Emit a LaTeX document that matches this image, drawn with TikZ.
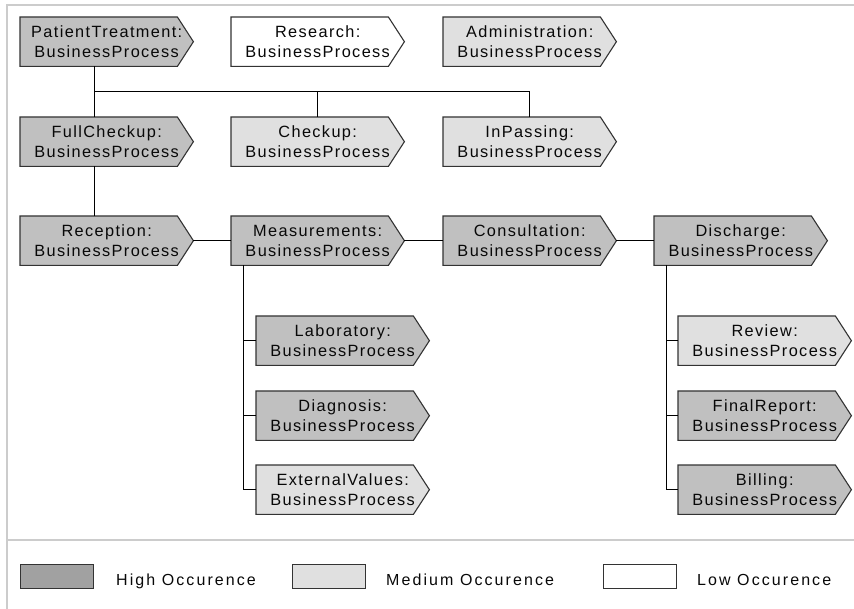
\documentclass[tikz,border=0pt]{standalone}
\usepackage{fontspec}
\setmainfont{Liberation Sans}[LetterSpace=8.5]
\usetikzlibrary{backgrounds}

\definecolor{high}{gray}{0.753}
\definecolor{medium}{gray}{0.878}
\definecolor{low}{gray}{1}
\definecolor{keyhigh}{gray}{0.63}
\definecolor{framegray}{gray}{0.8}
\definecolor{outline}{gray}{0.2}
\definecolor{ink}{gray}{0.03}

\begin{document}
\begin{tikzpicture}[x=1pt,y=-1pt,
  bp/.style={anchor=north west, minimum width=173pt, minimum height=49pt,
    inner sep=0pt, align=center, text=ink,
    font=\fontsize{16.3}{20.4}\selectfont,
    execute at begin node={\rule{0pt}{15.5pt}}},
  shapeline/.style={draw=outline, line width=1.1pt},
  link/.style={draw=black, line width=0.9pt},
  framestyle/.style={draw=framegray, line width=1.4pt},
  key/.style={anchor=north west, minimum width=73pt, minimum height=24pt,
    inner sep=0pt, draw=outline, line width=1pt},
  keytext/.style={anchor=base west, inner sep=0pt, text=ink,
    font=\fontsize{16}{20}\selectfont\addfontfeature{LetterSpace=13}}]
\useasboundingbox (0,0) rectangle (854,609);

% outer frame and legend separator
\draw[framestyle] (7,609) -- (7,5) -- (854,5);
\draw[framestyle, line width=1.1pt] (7,540) -- (854,540);

% process nodes
\node[bp] (pt) at (20,17)   {PatientTreatment:\\BusinessProcess};
\node[bp] (rs) at (231,17)  {Research:\\BusinessProcess};
\node[bp] (ad) at (443,17)  {Administration:\\BusinessProcess};
\node[bp] (fc) at (20,117)  {FullCheckup:\\BusinessProcess};
\node[bp] (ck) at (231,117) {Checkup:\\BusinessProcess};
\node[bp] (ip) at (443,117) {InPassing:\\BusinessProcess};
\node[bp] (rc) at (20,216)  {Reception:\\BusinessProcess};
\node[bp] (ms) at (231,216) {Measurements:\\BusinessProcess};
\node[bp] (cs) at (443,216) {Consultation:\\BusinessProcess};
\node[bp] (ds) at (654,216) {Discharge:\\BusinessProcess};
\node[bp] (lb) at (256,316) {Laboratory:\\BusinessProcess};
\node[bp] (dg) at (256,391) {Diagnosis:\\BusinessProcess};
\node[bp] (ev) at (256,465) {ExternalValues:\\BusinessProcess};
\node[bp] (rv) at (678,316) {Review:\\BusinessProcess};
\node[bp] (fr) at (678,391) {FinalReport:\\BusinessProcess};
\node[bp] (bl) at (678,465) {Billing:\\BusinessProcess};

% pentagon outlines behind the texts
\begin{scope}[on background layer]
\foreach \n/\f in {pt/high, rs/low, ad/medium, fc/high, ck/medium, ip/medium,
                   rc/high, ms/high, cs/high, ds/high, lb/high, dg/high,
                   ev/medium, rv/medium, fr/high, bl/high}
  \filldraw[shapeline, fill=\f] (\n.north west) -- ([xshift=-16pt]\n.north east)
    -- (\n.east) -- ([xshift=-16pt]\n.south east) -- (\n.south west) -- cycle;
\end{scope}

% connectors
\coordinate (bus) at (0,91.7);
\draw[link] ([xshift=-12pt]pt.south) -- ([xshift=-12pt]fc.north);
\draw[link] ([xshift=-12pt]pt.south |- bus) -| (ip.north);
\draw[link] (ck.north) -- (ck.north |- bus);
\draw[link] ([xshift=-12pt]fc.south) -- ([xshift=-12pt]rc.north);
\draw[link] (rc.east) -- (ms.west);
\draw[link] (ms.east) -- (cs.west);
\draw[link] (cs.east) -- (ds.west);
\foreach \s in {lb, dg, ev}
  \draw[link] ([xshift=12.7pt]ms.south west) |- (\s.west);
\foreach \s in {rv, fr, bl}
  \draw[link] ([xshift=12pt]ds.south west) |- (\s.west);

% legend
\node[key, fill=keyhigh] (kh) at (20,564) {};
\node[keytext] (khl) at (116,585) {High Occurence};
\node[key, fill=medium] (km) at (292,564) {};
\node[keytext] (kml) at (386,585) {Medium Occurence};
\node[key, fill=low] (kl) at (603,564) {};
\node[keytext] (kll) at (697,585) {Low Occurence};
\end{tikzpicture}
\end{document}
